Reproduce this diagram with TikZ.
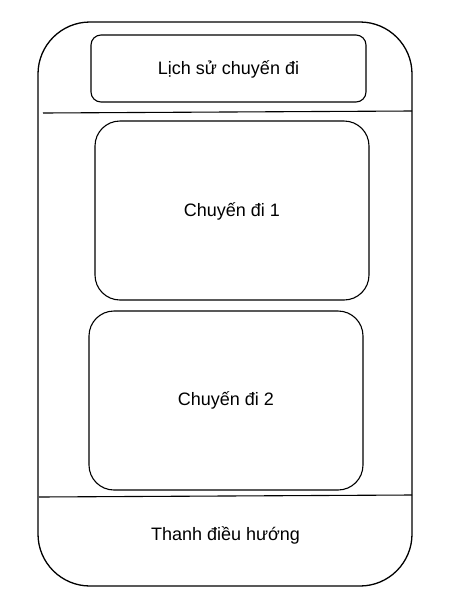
\documentclass[tikz,border=0pt]{standalone}
\usepackage{fontspec}
\setmainfont{Liberation Sans}
\begin{document}
\begin{tikzpicture}[x=1pt,y=-1pt,
  frame/.style={draw=black,line width=1.3pt},
  card/.style={draw=black,line width=1.1pt},
  lbl/.style={font=\fontsize{18}{21}\selectfont,text=black}]
\useasboundingbox (0,0) rectangle (467,614);
\draw[frame,rounded corners=52pt] (38,22) rectangle (412,586);
\coordinate (l1a) at (43,113);
\coordinate (l1b) at (412,111);
\coordinate (l2a) at (39,497);
\coordinate (l2b) at (412,495);
\draw[card] (l1a) -- (l1b);
\draw[card] (l2a) -- (l2b);
\draw[card,rounded corners=10pt] (91,35) rectangle (366,102);
\draw[card,rounded corners=25pt] (95,121) rectangle (369,300);
\draw[card,rounded corners=25pt] (89,311) rectangle (363,490);
\node[lbl] (t0) at (228.5,69) {Lịch sử chuyến đi};
\node[lbl] (t1) at (232,211) {Chuyến đi 1};
\node[lbl] (t2) at (226,400) {Chuyến đi 2};
\node[lbl] (t3) at (225.5,535) {Thanh điều hướng};
\end{tikzpicture}
\end{document}
